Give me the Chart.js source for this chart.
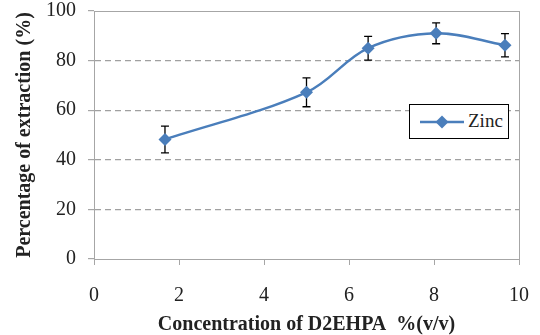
<!DOCTYPE html>
<html>
<head>
<meta charset="utf-8">
<script src="https://cdn.jsdelivr.net/npm/chart.js@4.4.1/dist/chart.umd.min.js"></script>
<style>
  html, body { margin: 0; padding: 0; background: #fff; }
  #wrap { position: relative; width: 540px; height: 335px; }
  #legend {
    position: absolute; left: 409px; top: 104px; width: 98px; height: 33px;
    border: 1px solid #000; background: #fff; box-sizing: content-box;
    font-family: "Liberation Serif", serif; font-size: 19px; color: #222;
  }
  #legend canvas { position: absolute; left: 10px; top: 10px; }
  #legend span { position: absolute; left: 58px; top: 5px; }
</style>
</head>
<body>
<div id="wrap">
  <canvas id="chart" width="540" height="335"></canvas>
  <div id="legend"><canvas id="lg" width="44" height="14"></canvas><span>Zinc</span></div>
</div>
<script>
// D2EHPA concentration (% v/v) vs zinc extraction
const concentration = [1.67, 5.0, 6.45, 8.05, 9.67];
const extraction = [48.2, 67.2, 85.0, 91.0, 86.2];
const errorSize = [5.4, 5.8, 4.8, 4.2, 4.7];
const xTicks = [0, 2, 4, 6, 8, 10];
const yTicks = [0, 20, 40, 60, 80, 100];

const blue = '#4A7EBB';
Chart.defaults.font.family = "'Liberation Serif', serif";

// error bars, drawn before the markers so the diamond sits on top
const errorBars = {
  id: 'errorBars',
  beforeDatasetsDraw(chart) {
    const ctx = chart.ctx;
    const xs = chart.scales.x, ys = chart.scales.y;
    ctx.save();
    ctx.strokeStyle = '#000';
    ctx.lineWidth = 1.3;
    concentration.forEach((c, i) => {
      const px = xs.getPixelForValue(c);
      const top = ys.getPixelForValue(extraction[i] + errorSize[i]);
      const bot = ys.getPixelForValue(extraction[i] - errorSize[i]);
      ctx.beginPath();
      ctx.moveTo(px, top); ctx.lineTo(px, bot);
      ctx.moveTo(px - 4, top); ctx.lineTo(px + 4, top);
      ctx.moveTo(px - 4, bot); ctx.lineTo(px + 4, bot);
      ctx.stroke();
    });
    ctx.restore();
  }
};

// gray frame round the plot area
const plotFrame = {
  id: 'plotFrame',
  beforeDatasetsDraw(chart) {
    const a = chart.chartArea, ctx = chart.ctx;
    ctx.save();
    ctx.strokeStyle = '#a6a6a6';
    ctx.lineWidth = 1;
    ctx.strokeRect(Math.round(a.left) + 0.5, Math.round(a.top) + 0.5,
      Math.round(a.right - a.left), Math.round(a.bottom - a.top));
    ctx.restore();
  }
};

new Chart(document.getElementById('chart'), {
  type: 'line',
  data: {
    datasets: [{
      label: 'Zinc',
      data: concentration.map((c, i) => ({ x: c, y: extraction[i] })),
      borderColor: blue,
      backgroundColor: blue,
      borderWidth: 2.5,
      tension: 0.35,
      pointStyle: 'rectRot',
      pointRadius: 6.5,
      pointBorderWidth: 0,
      pointBackgroundColor: blue
    }]
  },
  options: {
    responsive: false,
    animation: false,
    layout: { padding: { top: 11, right: 21, left: 0, bottom: 0 } },
    plugins: { legend: { display: false }, tooltip: { enabled: false } },
    scales: {
      x: {
        type: 'linear', min: 0, max: 10,
        afterBuildTicks: s => { s.ticks = xTicks.map(v => ({ value: v })); },
        afterFit: s => { s.height = 76; s.paddingLeft = 0; s.paddingRight = 0; },
        grid: { drawOnChartArea: false, drawTicks: true, tickLength: 6, tickColor: '#a6a6a6' },
        border: { display: true, color: '#a6a6a6' },
        ticks: { color: '#222', font: { size: 20 }, padding: 19, maxRotation: 0 },
        title: {
          display: true, text: 'Concentration of D2EHPA  %(v/v)', color: '#222',
          font: { size: 20, weight: 'bold' }, padding: { top: 0, bottom: -2 }
        }
      },
      y: {
        min: 0, max: 100,
        afterBuildTicks: s => { s.ticks = yTicks.map(v => ({ value: v })); },
        afterFit: s => { s.width = 94; s.paddingTop = 0; s.paddingBottom = 0; },
        grid: {
          color: ctx => (ctx.tick && (ctx.tick.value === 0 || ctx.tick.value === 100)) ? 'rgba(0,0,0,0)' : '#a0a0a0',
          lineWidth: 1.2, drawTicks: true, tickLength: 6, tickColor: '#a6a6a6', tickBorderDash: []
        },
        border: { display: true, color: '#a6a6a6', dash: [6, 4] },
        ticks: { color: '#222', font: { size: 20 }, padding: 12 },
        title: {
          display: true, text: 'Percentage of extraction (%)', color: '#222',
          font: { size: 20, weight: 'bold' }, padding: { top: 13, bottom: 0 }
        }
      }
    }
  },
  plugins: [plotFrame, errorBars]
});

// legend swatch: line with diamond
const lg = document.getElementById('lg').getContext('2d');
lg.strokeStyle = blue; lg.lineWidth = 2.5;
lg.beginPath(); lg.moveTo(0, 7); lg.lineTo(44, 7); lg.stroke();
lg.fillStyle = blue;
lg.beginPath(); lg.moveTo(22, 0.5); lg.lineTo(28.5, 7); lg.lineTo(22, 13.5); lg.lineTo(15.5, 7); lg.closePath(); lg.fill();
</script>
</body>
</html>
